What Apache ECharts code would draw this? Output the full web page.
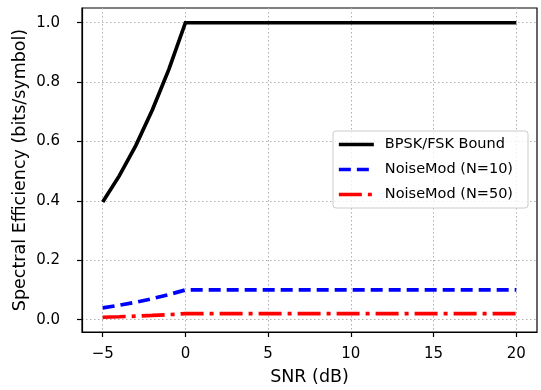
<!DOCTYPE html>
<html>
<head>
<meta charset="utf-8">
<script src="https://cdn.jsdelivr.net/npm/echarts@6/dist/echarts.min.js"></script>
<style>html,body{margin:0;padding:0;background:#fff;}#c{width:541px;height:390px;}</style>
</head>
<body>
<div id="c"></div>
<script>
const snr = [-5,-4,-3,-2,-1,0,1,2,3,4,5,6,7,8,9,10,11,12,13,14,15,16,17,18,19,20];
const bound = [0.396,0.484,0.586,0.706,0.843,1,1,1,1,1,1,1,1,1,1,1,1,1,1,1,1,1,1,1,1,1];
const noise10 = [0.0396,0.0484,0.0586,0.0706,0.0843,0.1,0.1,0.1,0.1,0.1,0.1,0.1,0.1,0.1,0.1,0.1,0.1,0.1,0.1,0.1,0.1,0.1,0.1,0.1,0.1,0.1];
const noise50 = [0.0079,0.0097,0.0117,0.0141,0.0169,0.02,0.02,0.02,0.02,0.02,0.02,0.02,0.02,0.02,0.02,0.02,0.02,0.02,0.02,0.02,0.02,0.02,0.02,0.02,0.02,0.02];
const xTicks = [-5,0,5,10,15,20];
const yTicks = [0,0.2,0.4,0.6,0.8,1.0];
const names = ['BPSK/FSK Bound','NoiseMod (N=10)','NoiseMod (N=50)'];

const font = 'DejaVu Sans';
const pair = (ys) => snr.map((x,i)=>[x, ys[i]]);
const chart = echarts.init(document.getElementById('c'), null, {renderer:'canvas'});
const gridLine = {show:true, lineStyle:{color:'#b0b0b0', width:1, type:[1.5,2.5]}};
chart.setOption({
  animation:false,
  backgroundColor:'#fff',
  grid:{left:82, right:4, top:8, bottom:58, show:true, borderColor:'#000', borderWidth:1.2,
        containLabel:false, outerBoundsMode:'none'},
  xAxis:{
    type:'value', min:-6.25, max:21.25,
    name:'SNR (dB)', nameLocation:'middle', nameGap:36, nameMoveOverlap:false,
    nameTextStyle:{fontFamily:font, fontSize:17.5, color:'#000'},
    axisLine:{show:true, onZero:false, lineStyle:{color:'#000', width:1.2}},
    axisTick:{show:true, inside:false, length:5, customValues:xTicks, lineStyle:{color:'#000', width:1.2}},
    axisLabel:{customValues:xTicks, fontFamily:font, fontSize:15, color:'#000', margin:15,
      formatter:v=>String(v).replace('-','\u2212')},
    splitLine:gridLine
  },
  yAxis:{
    type:'value', min:-0.0417, max:1.0496,
    name:'Spectral Efficiency (bits/symbol)', nameLocation:'middle', nameGap:53, nameMoveOverlap:false,
    nameTextStyle:{fontFamily:font, fontSize:17.5, color:'#000'},
    axisLine:{show:true, onZero:false, lineStyle:{color:'#000', width:1.2}},
    axisTick:{show:true, inside:false, length:5, customValues:yTicks, lineStyle:{color:'#000', width:1.2}},
    axisLabel:{customValues:yTicks, fontFamily:font, fontSize:15, color:'#000', margin:22,
      formatter:v=>v.toFixed(1)},
    splitLine:gridLine
  },
  legend:{
    orient:'vertical', left:333, top:131,
    padding:[6,15,6,4], itemGap:10, itemWidth:35, itemHeight:14,
    backgroundColor:'rgba(255,255,255,0.8)', borderColor:'#cccccc', borderWidth:1, borderRadius:3,
    itemStyle:{opacity:0},
    lineStyle:{width:3.7},
    textStyle:{fontFamily:font, fontSize:14.5, color:'#000', padding:[0,0,0,6]},
    data:names
  },
  series:[
    {name:names[0], type:'line', data:pair(bound), symbol:'none', color:'#000000',
     lineStyle:{color:'#000000', width:3.7, cap:'butt', join:'miter'}},
    {name:names[1], type:'line', data:pair(noise10), symbol:'none', color:'#0000ff',
     lineStyle:{color:'#0000ff', width:3.7, type:[12,6], cap:'butt'}},
    {name:names[2], type:'line', data:pair(noise50), symbol:'none', color:'#ff0000',
     lineStyle:{color:'#ff0000', width:3.7, type:[23,6,4,6], cap:'butt'}}
  ]
});
</script>
</body>
</html>
